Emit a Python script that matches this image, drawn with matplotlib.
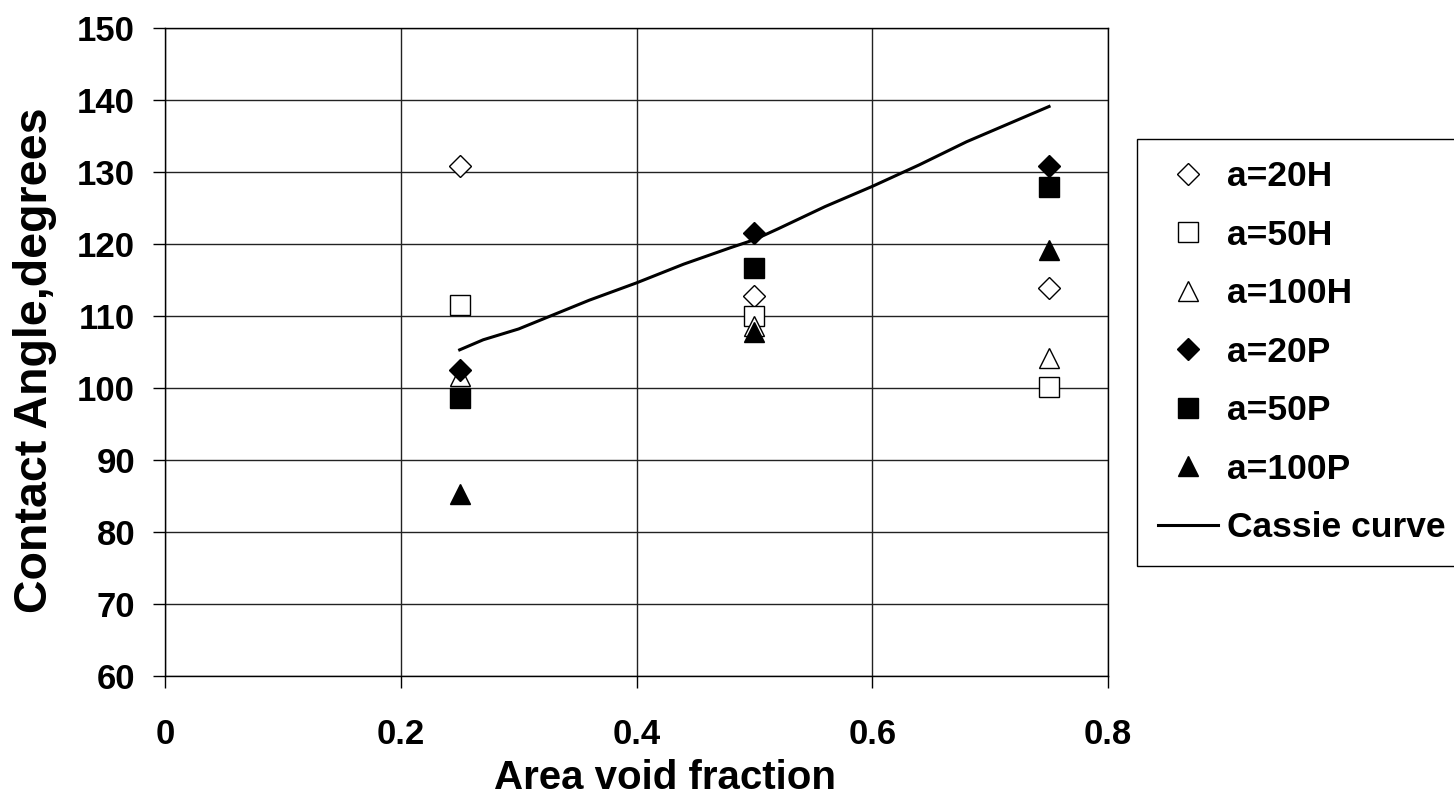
import matplotlib
matplotlib.use("Agg")
import matplotlib.pyplot as plt

plt.rcParams['font.family'] = ['Liberation Sans', 'DejaVu Sans']
plt.rcParams['font.weight'] = 'bold'

# measured data (three void fractions)
void_frac = [0.25, 0.50, 0.75]
a20H = [130.8, 112.8, 113.9]
a50H = [111.5, 110.0, 100.1]
a100H = [101.7, 108.6, 104.2]
a20P = [102.5, 121.5, 130.8]
a50P = [98.6, 116.6, 127.9]
a100P = [85.3, 107.8, 119.2]

# Cassie prediction
cassie_x = [0.25, 0.27, 0.30, 0.33, 0.36, 0.40, 0.44, 0.48, 0.50, 0.52,
            0.56, 0.60, 0.64, 0.68, 0.72, 0.75]
cassie_y = [105.3, 106.7, 108.2, 110.2, 112.2, 114.6, 117.2, 119.5, 120.6, 122.1,
            125.2, 128.0, 131.0, 134.2, 137.0, 139.1]

fig = plt.figure(figsize=(14.54, 8.01), dpi=100)
ax = fig.add_axes([165/1454, 1-676/801, (1108-165)/1454, (676-28)/801])

ax.plot(void_frac, a20H, linestyle='none', marker='D', markersize=11,
        markerfacecolor='white', markeredgecolor='black', markeredgewidth=1.0, label='a=20H')
ax.plot(void_frac, a50H, linestyle='none', marker='s', markersize=14,
        markerfacecolor='white', markeredgecolor='black', markeredgewidth=1.0, label='a=50H')
ax.plot(void_frac, a100H, linestyle='none', marker='^', markersize=15,
        markerfacecolor='white', markeredgecolor='black', markeredgewidth=1.0, label='a=100H')
ax.plot(void_frac, a20P, linestyle='none', marker='D', markersize=11,
        color='black', label='a=20P')
ax.plot(void_frac, a50P, linestyle='none', marker='s', markersize=14,
        color='black', label='a=50P')
ax.plot(void_frac, a100P, linestyle='none', marker='^', markersize=15,
        color='black', label='a=100P')
ax.plot(cassie_x, cassie_y, color='black', linewidth=2.2, label='Cassie curve')

ax.set_xlim(0, 0.8)
ax.set_ylim(60, 150)
ax.set_xticks([0, 0.2, 0.4, 0.6, 0.8])
ax.set_xticklabels(['0', '0.2', '0.4', '0.6', '0.8'])
ax.set_yticks(range(60, 151, 10))
ax.grid(True, color='#222222', linewidth=1.0)
ax.set_axisbelow(True)
for s in ax.spines.values():
    s.set_color('black')
    s.set_linewidth(1.0)

ax.tick_params(axis='both', direction='out', length=8.6, width=1.0, labelsize=25)
ax.tick_params(axis='y', pad=13)
ax.tick_params(axis='x', pad=22)

fig.text(665/1454, 1-778/801, 'Area void fraction', ha='center', va='center',
         fontsize=29, fontweight='bold')
fig.text(35/1454, 1-360/801, 'Contact Angle,degrees', ha='center', va='center',
         rotation=90, fontsize=33.5, fontweight='bold')

fig.legend(loc='upper left', bbox_to_anchor=(1137/1454, 1-139/801),
           fontsize=25.5, frameon=True, fancybox=False, edgecolor='black',
           framealpha=1, labelspacing=0.72, handlelength=1.7, handletextpad=0.25,
           borderpad=0.6, borderaxespad=0)

fig.savefig('out.png', dpi=100)
